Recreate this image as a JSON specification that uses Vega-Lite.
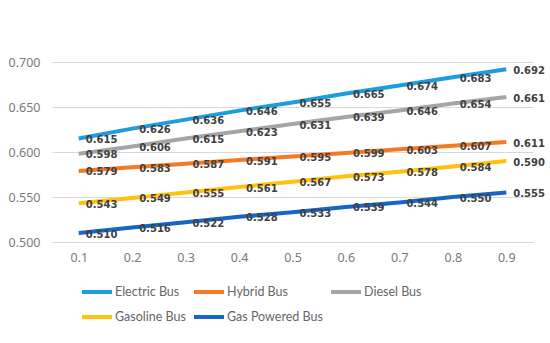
{
  "$schema": "https://vega.github.io/schema/vega-lite/v6.json",
  "width": 481,
  "height": 180,
  "autosize": "none",
  "padding": {"left": 52, "top": 62, "right": 17, "bottom": 101},
  "background": "white",
  "config": {"view": {"stroke": null}, "font": "Noto Sans"},
  "data": {"values": [
    {"series": "Electric Bus", "x": "0.1", "value": 0.615},
    {"series": "Electric Bus", "x": "0.2", "value": 0.626},
    {"series": "Electric Bus", "x": "0.3", "value": 0.636},
    {"series": "Electric Bus", "x": "0.4", "value": 0.646},
    {"series": "Electric Bus", "x": "0.5", "value": 0.655},
    {"series": "Electric Bus", "x": "0.6", "value": 0.665},
    {"series": "Electric Bus", "x": "0.7", "value": 0.674},
    {"series": "Electric Bus", "x": "0.8", "value": 0.683},
    {"series": "Electric Bus", "x": "0.9", "value": 0.692},
    {"series": "Hybrid Bus", "x": "0.1", "value": 0.579},
    {"series": "Hybrid Bus", "x": "0.2", "value": 0.583},
    {"series": "Hybrid Bus", "x": "0.3", "value": 0.587},
    {"series": "Hybrid Bus", "x": "0.4", "value": 0.591},
    {"series": "Hybrid Bus", "x": "0.5", "value": 0.595},
    {"series": "Hybrid Bus", "x": "0.6", "value": 0.599},
    {"series": "Hybrid Bus", "x": "0.7", "value": 0.603},
    {"series": "Hybrid Bus", "x": "0.8", "value": 0.607},
    {"series": "Hybrid Bus", "x": "0.9", "value": 0.611},
    {"series": "Diesel Bus", "x": "0.1", "value": 0.598},
    {"series": "Diesel Bus", "x": "0.2", "value": 0.606},
    {"series": "Diesel Bus", "x": "0.3", "value": 0.615},
    {"series": "Diesel Bus", "x": "0.4", "value": 0.623},
    {"series": "Diesel Bus", "x": "0.5", "value": 0.631},
    {"series": "Diesel Bus", "x": "0.6", "value": 0.639},
    {"series": "Diesel Bus", "x": "0.7", "value": 0.646},
    {"series": "Diesel Bus", "x": "0.8", "value": 0.654},
    {"series": "Diesel Bus", "x": "0.9", "value": 0.661},
    {"series": "Gasoline Bus", "x": "0.1", "value": 0.543},
    {"series": "Gasoline Bus", "x": "0.2", "value": 0.549},
    {"series": "Gasoline Bus", "x": "0.3", "value": 0.555},
    {"series": "Gasoline Bus", "x": "0.4", "value": 0.561},
    {"series": "Gasoline Bus", "x": "0.5", "value": 0.567},
    {"series": "Gasoline Bus", "x": "0.6", "value": 0.573},
    {"series": "Gasoline Bus", "x": "0.7", "value": 0.578},
    {"series": "Gasoline Bus", "x": "0.8", "value": 0.584},
    {"series": "Gasoline Bus", "x": "0.9", "value": 0.590},
    {"series": "Gas Powered Bus", "x": "0.1", "value": 0.510},
    {"series": "Gas Powered Bus", "x": "0.2", "value": 0.516},
    {"series": "Gas Powered Bus", "x": "0.3", "value": 0.522},
    {"series": "Gas Powered Bus", "x": "0.4", "value": 0.528},
    {"series": "Gas Powered Bus", "x": "0.5", "value": 0.533},
    {"series": "Gas Powered Bus", "x": "0.6", "value": 0.539},
    {"series": "Gas Powered Bus", "x": "0.7", "value": 0.544},
    {"series": "Gas Powered Bus", "x": "0.8", "value": 0.550},
    {"series": "Gas Powered Bus", "x": "0.9", "value": 0.555}
  ]},
  "encoding": {
    "x": {
      "field": "x", "type": "ordinal",
      "scale": {"type": "point", "padding": 0.5},
      "axis": {"title": null, "labelAngle": 0, "domain": false, "ticks": false, "labelPadding": 9, "labelFontSize": 12.5, "labelColor": "#7a7a7a", "labelFont": "Noto Sans"}
    },
    "y": {
      "field": "value", "type": "quantitative",
      "scale": {"domain": [0.5, 0.7], "zero": false, "nice": false},
      "axis": {"title": null, "values": [0.5, 0.55, 0.6, 0.65, 0.7], "format": ".3f", "domain": false, "ticks": false, "labelPadding": 12, "labelFontSize": 12.5, "labelColor": "#7a7a7a", "gridColor": "#d9d9d9", "gridWidth": 1, "labelFont": "Noto Sans"}
    }
  },
  "layer": [
    {
      "mark": {"type": "line", "strokeWidth": 4, "strokeCap": "butt"},
      "encoding": {
        "color": {
          "field": "series", "type": "nominal",
          "scale": {
            "domain": ["Electric Bus", "Hybrid Bus", "Diesel Bus", "Gasoline Bus", "Gas Powered Bus"],
            "range": ["#1e9ce0", "#f57b22", "#a5a5a5", "#ffc20e", "#1766c7"]
          },
          "sort": ["Electric Bus", "Hybrid Bus", "Diesel Bus", "Gasoline Bus", "Gas Powered Bus"],
          "legend": {
            "title": null,
            "orient": "none",
            "legendX": 28,
            "legendY": 213,
            "direction": "horizontal",
            "columns": 3,
            "gridAlign": "each",
            "columnPadding": 0,
            "rowPadding": -2,
            "symbolType": "stroke",
            "symbolSize": 900,
            "symbolStrokeWidth": 4,
            "labelOffset": 1,
            "labelFontSize": 12.5,
            "labelColor": "#666666",
            "labelFont": "Lato"
          }
        }
      }
    },
    {
      "mark": {"type": "text", "align": "left", "baseline": "middle", "dx": 7, "dy": 1.5, "font": "DejaVu Sans", "fontWeight": "bold", "fontSize": 10, "color": "#404040"},
      "encoding": {
        "text": {"field": "value", "type": "quantitative", "format": ".3f"},
        "detail": {"field": "series"}
      }
    }
  ]
}
